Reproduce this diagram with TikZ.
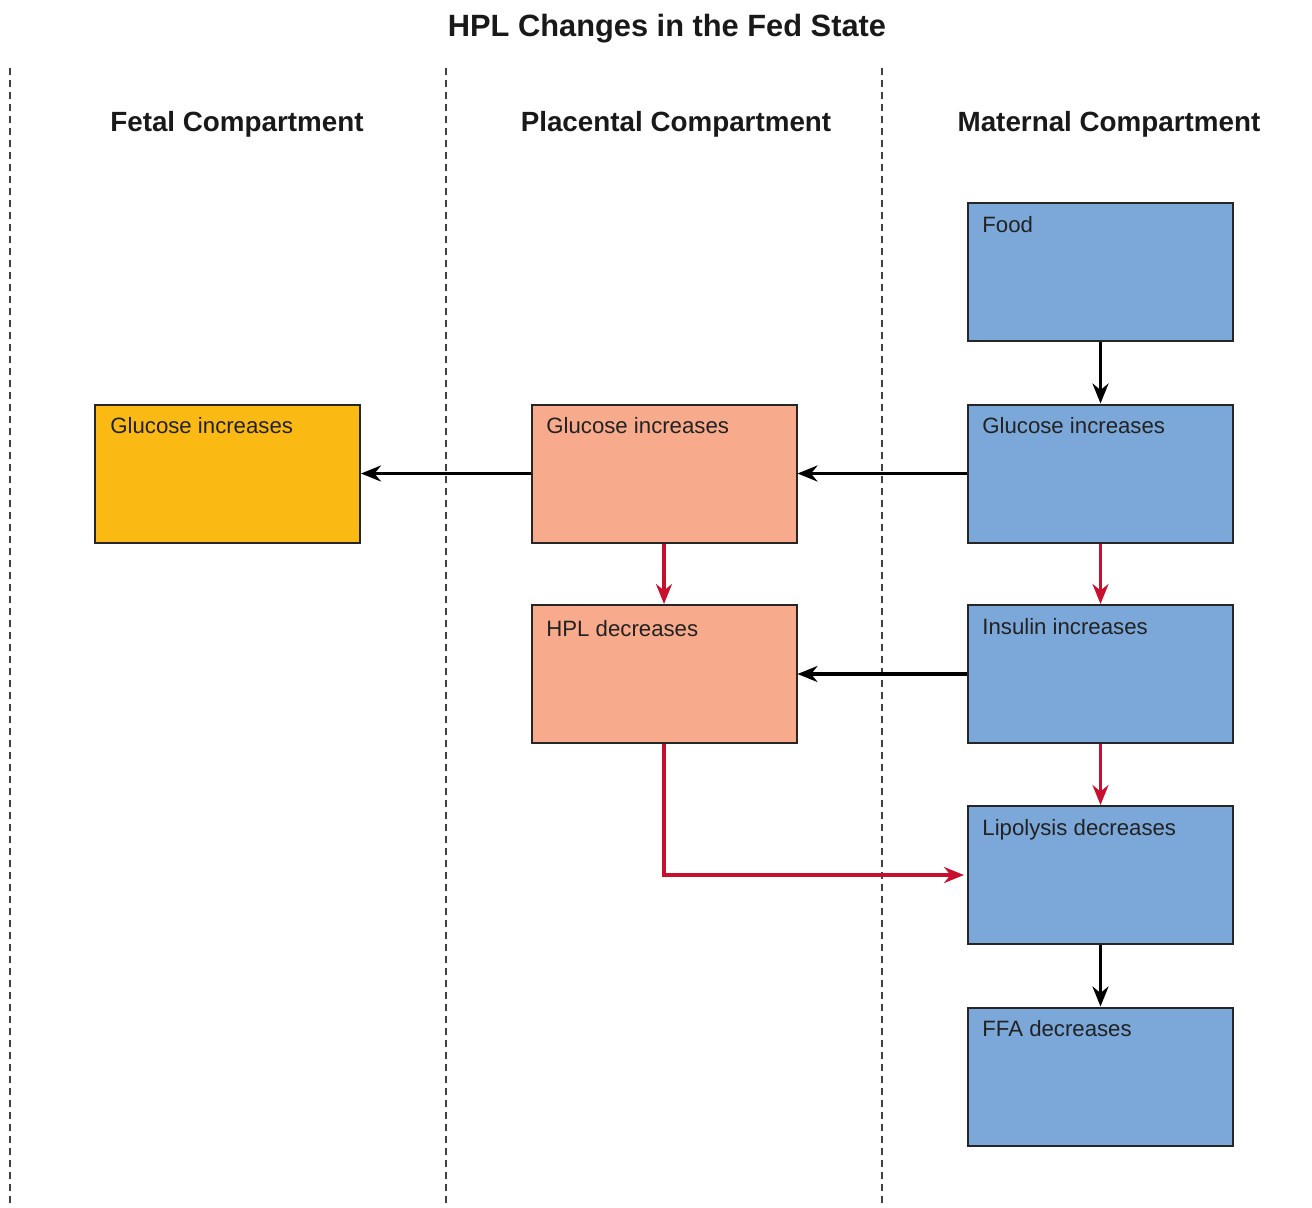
\documentclass[tikz,border=0pt]{standalone}
\usepackage{fontspec}
\setmainfont{Liberation Sans}
\usetikzlibrary{arrows.meta}
\definecolor{mblue}{HTML}{7BA7D9}
\definecolor{psalmon}{HTML}{F7AA8C}
\definecolor{fgold}{HTML}{FBB913}
\definecolor{ared}{HTML}{C8102E}
\definecolor{txt}{HTML}{222222}
\tikzset{
  box/.style={draw=black!85, line width=1pt, minimum width=132.5pt, minimum height=69pt, inner sep=0pt},
  bluebox/.style={box, fill=mblue},
  salbox/.style={box, fill=psalmon},
  goldbox/.style={box, fill=fgold},
  boxtext/.style={anchor=base west, inner sep=0pt, font=\fontsize{11.1pt}{13pt}\selectfont, text=txt},
  header/.style={font=\fontsize{13.9pt}{16pt}\selectfont\bfseries, text=black!90},
  divider/.style={line width=0.9pt, dash pattern=on 3.5pt off 2.5pt, draw=black!75},
  blk/.style={line width=1.6pt, draw=black, -{Stealth[length=10pt,width=8pt]}},
  redarr/.style={line width=1.6pt, draw=ared, -{Stealth[length=10pt,width=8pt]}}
}
\begin{document}
\begin{tikzpicture}[x=0.5pt,y=-0.5pt]
\useasboundingbox (0,0) rectangle (1312,1207);
% title and headers
\node[font=\fontsize{15.4pt}{18pt}\selectfont\bfseries, text=black!90] (title) at (667,29) {HPL Changes in the Fed State};
\node[header] (hfetal) at (237,124) {Fetal Compartment};
\node[header] (hplac) at (676,124) {Placental Compartment};
\node[header] (hmat) at (1109,124) {Maternal Compartment};
% dividers
\coordinate (d1t) at (10,68); \coordinate (d1b) at (10,1207);
\coordinate (d2t) at (446,68); \coordinate (d2b) at (446,1207);
\coordinate (d3t) at (882,68); \coordinate (d3b) at (882,1207);
\draw[divider] (d1t) -- (d1b);
\draw[divider] (d2t) -- (d2b);
\draw[divider] (d3t) -- (d3b);
% boxes
\node[bluebox] (food) at (1100.5,272) {};
\node[bluebox] (mglu) at (1100.5,473.5) {};
\node[bluebox] (ins) at (1100.5,674) {};
\node[bluebox] (lip) at (1100.5,875) {};
\node[bluebox] (ffa) at (1100.5,1076.5) {};
\node[goldbox] (fglu) at (227.5,473.5) {};
\node[salbox] (pglu) at (664,473.5) {};
\node[salbox] (hpl) at (664,674) {};
% box texts
\node[boxtext] (foodt) at (982,232) {Food};
\node[boxtext] (mglut) at (982,433) {Glucose increases};
\node[boxtext] (inst) at (982,634) {Insulin increases};
\node[boxtext] (lipt) at (982,835) {Lipolysis decreases};
\node[boxtext] (ffat) at (982,1036) {FFA decreases};
\node[boxtext] (fglut) at (110,433) {Glucose increases};
\node[boxtext] (pglut) at (546,433) {Glucose increases};
\node[boxtext] (hplt) at (546,636) {HPL decreases};
% connectors
\draw[blk] (food) -- (mglu);
\draw[redarr] (mglu) -- (ins);
\draw[redarr] (ins) -- (lip);
\draw[blk] (lip) -- (ffa);
\draw[blk] (mglu) -- (pglu);
\draw[blk] (pglu) -- (fglu);
\draw[blk] (ins) -- (hpl);
\draw[redarr] (pglu) -- (hpl);
\draw[redarr] (hpl.south) |- ([xshift=-1.5pt]lip.west);
\end{tikzpicture}
\end{document}
